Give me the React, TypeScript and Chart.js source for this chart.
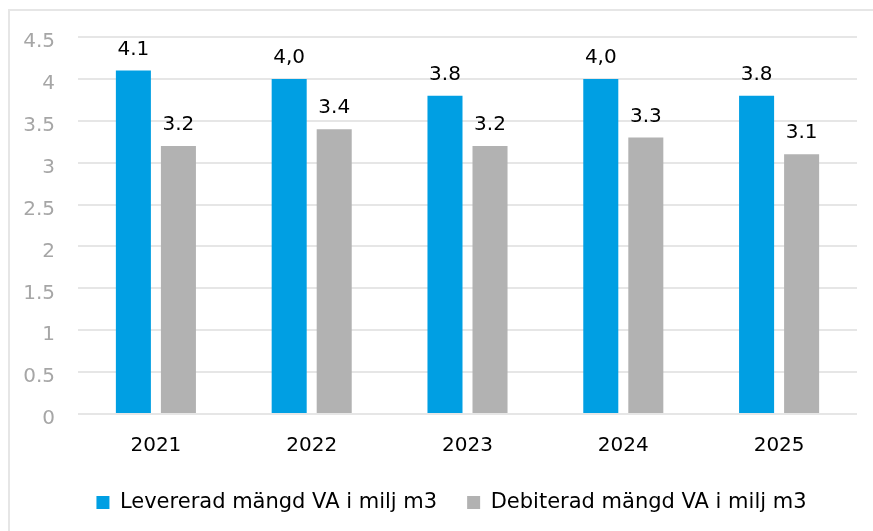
import React, { useEffect, useRef } from "react";
import { Chart, registerables } from "chart.js";

Chart.register(...registerables);

const categories = ["2021", "2022", "2023", "2024", "2025"];
const levereradValues = [4.1, 4.0, 3.8, 4.0, 3.8];
const debiteradValues = [3.2, 3.4, 3.2, 3.3, 3.1];
const levereradLabels = ["4.1", "4,0", "3.8", "4,0", "3.8"];
const debiteradLabels = ["3.2", "3.4", "3.2", "3.3", "3.1"];
const seriesNames = ["Levererad mängd VA i milj m3", "Debiterad mängd VA i milj m3"];

const FONT = "Verdana, 'DejaVu Sans', sans-serif";

const dataLabelPlugin = {
  id: "dataLabels",
  afterDatasetsDraw(chart: any) {
    const ctx = chart.ctx;
    const texts = [levereradLabels, debiteradLabels];
    ctx.save();
    ctx.font = `20px ${FONT}`;
    ctx.fillStyle = "#000000";
    ctx.textAlign = "center";
    ctx.textBaseline = "alphabetic";
    chart.data.datasets.forEach((_ds: any, di: number) => {
      const meta = chart.getDatasetMeta(di);
      meta.data.forEach((bar: any, i: number) => {
        ctx.fillText(texts[di][i], bar.x, bar.y - 16);
      });
    });
    ctx.restore();
  },
};

const legendShiftPlugin = {
  id: "legendShift",
  afterLayout(chart: any) {
    if (chart.legend) {
      chart.legend.left += 23;
      chart.legend.right += 23;
    }
  },
};

export default function App() {
  const canvasRef = useRef<HTMLCanvasElement | null>(null);

  useEffect(() => {
    if (!canvasRef.current) return;
    const chart = new Chart(canvasRef.current, {
      type: "bar",
      data: {
        labels: categories,
        datasets: [
          {
            label: seriesNames[0],
            data: levereradValues,
            backgroundColor: "#009fe3",
            categoryPercentage: 0.578,
            barPercentage: 0.778,
          },
          {
            label: seriesNames[1],
            data: debiteradValues,
            backgroundColor: "#b2b2b2",
            categoryPercentage: 0.578,
            barPercentage: 0.778,
          },
        ],
      },
      options: {
        animation: false,
        responsive: false,
        maintainAspectRatio: false,
        devicePixelRatio: 1,
        layout: { padding: { left: 0, right: 16, top: 37, bottom: 8 } },
        plugins: {
          legend: {
            position: "bottom",
            labels: {
              boxWidth: 13,
              boxHeight: 13,
              padding: 30,
              color: "#000000",
              font: { family: FONT, size: 21 },
            },
          },
          tooltip: { enabled: false },
        },
        scales: {
          x: {
            grid: { display: false, drawTicks: false },
            border: { display: false },
            ticks: {
              color: "#000000",
              font: { family: FONT, size: 20 },
              padding: 20,
            },
            afterFit(axis: any) {
              axis.height = 48;
            },
          },
          y: {
            min: 0,
            max: 4.5,
            grid: { color: "#e6e6e6", lineWidth: 2, drawTicks: false },
            border: { display: false },
            ticks: {
              stepSize: 0.5,
              color: "#a6a6a6",
              font: { family: FONT, size: 20 },
              padding: 23,
              labelOffset: 5,
              callback: (v: any) => String(v),
            },
            afterFit(axis: any) {
              axis.width = 78;
            },
          },
        },
      },
      plugins: [dataLabelPlugin, legendShiftPlugin],
    });
    return () => chart.destroy();
  }, []);

  return (
    <div
      style={{
        position: "fixed",
        left: 0,
        top: 0,
        width: 873,
        height: 531,
        overflow: "hidden",
        background: "#ffffff",
      }}
    >
      <div
        style={{
          position: "absolute",
          left: 8,
          top: 9,
          width: 1000,
          height: 1000,
          border: "2px solid #e6e6e6",
        }}
      />
      <canvas
        ref={canvasRef}
        width={873}
        height={531}
        style={{ position: "absolute", left: 0, top: 0, width: 873, height: 531 }}
      />
    </div>
  );
}
